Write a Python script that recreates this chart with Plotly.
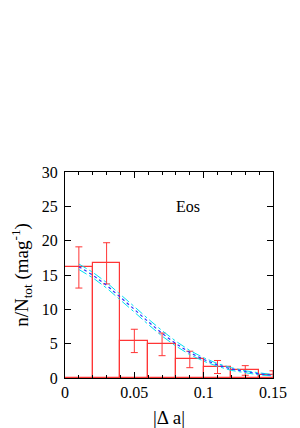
import plotly.graph_objects as go

bin_centers = [0.01, 0.03, 0.05, 0.07, 0.09, 0.11, 0.13, 0.15]
bin_values = [16.1, 16.7, 5.4, 4.9, 2.7, 1.6, 1.1, 0.5]
bin_errors = [3.0, 3.0, 1.7, 1.65, 1.2, 0.95, 0.7, 0.55]

curve_x = [0.01, 0.02, 0.03, 0.04, 0.05, 0.06, 0.07, 0.08, 0.09, 0.10, 0.11, 0.12, 0.13, 0.14, 0.15]
curve_mid = [16.2, 15.0, 13.5, 11.8, 10.0, 8.2, 6.5, 5.0, 3.7, 2.7, 1.9, 1.3, 0.9, 0.6, 0.4]
curve_up = [16.6, 15.4, 13.9, 12.2, 10.4, 8.6, 6.9, 5.35, 4.0, 2.95, 2.1, 1.5, 1.05, 0.75, 0.5]
curve_lo = [15.8, 14.6, 13.1, 11.4, 9.6, 7.8, 6.1, 4.65, 3.4, 2.45, 1.7, 1.1, 0.75, 0.45, 0.3]

red = "#ff3535"
fig = go.Figure()
fig.add_trace(go.Bar(x=bin_centers, y=bin_values, width=0.02,
                     marker=dict(color="rgba(0,0,0,0)", line=dict(color=red, width=1.2)),
                     showlegend=False))
fig.add_trace(go.Scatter(x=bin_centers, y=bin_values, mode="markers",
                         marker=dict(size=1, color="rgba(0,0,0,0)"), cliponaxis=False,
                         error_y=dict(type="data", array=bin_errors, color=red, thickness=1, width=3.5),
                         showlegend=False))
fig.add_trace(go.Scatter(x=curve_x, y=curve_up, mode="lines",
                         line=dict(color="#00e0f0", width=1, dash="dashdot"), showlegend=False))
fig.add_trace(go.Scatter(x=curve_x, y=curve_lo, mode="lines",
                         line=dict(color="#00e0f0", width=1, dash="dashdot"), showlegend=False))
fig.add_trace(go.Scatter(x=curve_x, y=curve_mid, mode="lines",
                         line=dict(color="#3030ff", width=1.2, dash="dot"), showlegend=False))

font = dict(family="Liberation Serif", size=16, color="black")
fig.update_layout(
    width=292, height=420,
    margin=dict(l=57, r=27, t=164, b=50),
    plot_bgcolor="white", paper_bgcolor="white",
    font=font,
    bargap=0,
    xaxis=dict(range=[0, 0.15], tickvals=[0, 0.05, 0.1, 0.15], ticktext=["0", "0.05", "0.1", "0.15"],
               ticks="inside", ticklen=6, tickcolor="black", showline=True, linecolor="black",
               linewidth=1, mirror="ticks", showgrid=False, zeroline=False, automargin=False,
               minor=dict(dtick=0.01, ticks="inside", ticklen=3, tickcolor="black"),
               title=dict(text="|Δ a|", standoff=10)),
    yaxis=dict(range=[0, 30], dtick=5, ticks="inside", ticklen=6, tickcolor="black",
               showline=True, linecolor="black", linewidth=1, mirror="ticks", automargin=False,
               showgrid=False, zeroline=False, ticklabelstandoff=3,
               title=dict(text="n/N<sub>tot</sub> (mag<sup>-1</sup>)", standoff=15)),
    annotations=[dict(x=0.0886, y=25.0, xref="x", yref="y", text="Eos", showarrow=False,
                      font=font)],
)
fig.write_html("out.html")
